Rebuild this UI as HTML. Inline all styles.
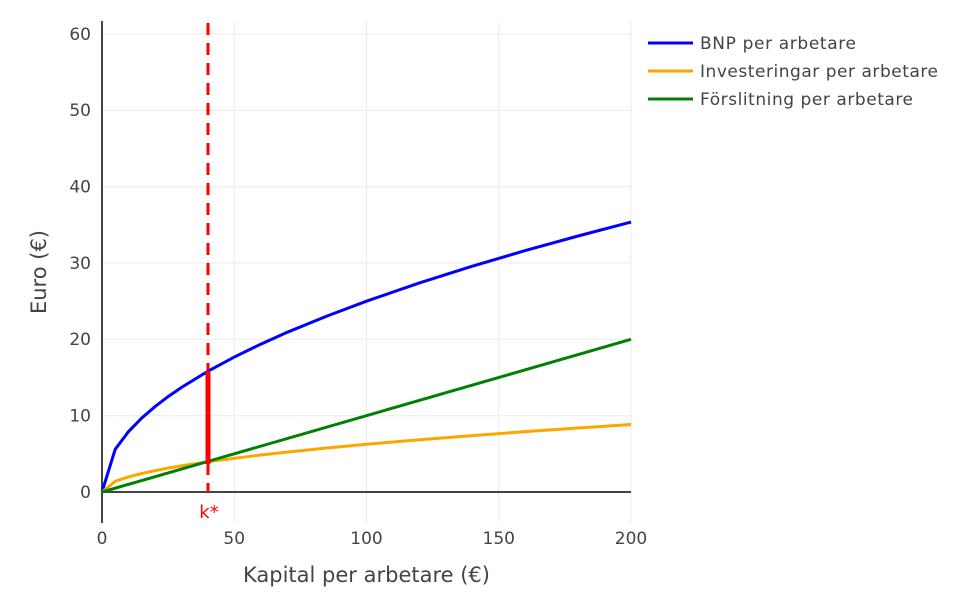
<!DOCTYPE html>
<html><head><meta charset="utf-8"><style>body{margin:0;background:#fff}svg{display:block}text{font-family:"DejaVu Sans","Liberation Sans",sans-serif;fill:#444}</style></head>
<body>
<svg width="959" height="609" viewBox="0 0 959 609" xmlns="http://www.w3.org/2000/svg">
<g stroke="#ebebeb" stroke-width="1">
<line x1="234.25" y1="21" x2="234.25" y2="523"/><line x1="366.5" y1="21" x2="366.5" y2="523"/><line x1="498.75" y1="21" x2="498.75" y2="523"/><line x1="631" y1="21" x2="631" y2="523"/>
<line x1="102" y1="415.7" x2="631" y2="415.7"/><line x1="102" y1="339.3" x2="631" y2="339.3"/><line x1="102" y1="263" x2="631" y2="263"/><line x1="102" y1="186.7" x2="631" y2="186.7"/><line x1="102" y1="110.4" x2="631" y2="110.4"/><line x1="102" y1="34" x2="631" y2="34"/>
</g>
<line x1="102" y1="492" x2="631" y2="492" stroke="#444" stroke-width="2"/>
<line x1="102" y1="21" x2="102" y2="523" stroke="#444" stroke-width="2"/>
<line x1="208" y1="23" x2="208" y2="492" stroke="#f00" stroke-width="3" stroke-dasharray="12,8"/>
<polyline fill="none" stroke="#0000ff" stroke-width="3" points="102,492 115.2,449.3 128.45,431.65 141.7,418.1 154.9,406.7 168.1,396.6 181.35,387.5 207.8,371.3 234.25,357.05 260.7,344.2 287.15,332.3 326.8,316.1 366.5,301.2 419.4,282.9 472.3,266.2 525.2,250.6 578.1,236 631,222.1"/>
<polyline fill="none" stroke="#ffa500" stroke-width="3" points="102,492 115.2,481.3 128.45,476.9 141.7,473.5 154.9,470.7 168.1,468.1 181.35,465.9 207.8,461.8 234.25,458.3 260.7,455.05 287.15,452.1 326.8,448 366.5,444.3 419.4,439.7 472.3,435.6 525.2,431.6 578.1,428 631,424.5"/>
<line x1="102" y1="492" x2="631" y2="339.3" stroke="#008000" stroke-width="3"/>
<line x1="208" y1="371" x2="208" y2="464" stroke="#f00" stroke-width="5"/>
<text x="209" y="518" font-size="18" text-anchor="middle" style="fill:#f00">k*</text>
<g font-size="17" text-anchor="end">
<text x="91" y="498">0</text><text x="91" y="421.5">10</text><text x="91" y="345">20</text><text x="91" y="269">30</text><text x="91" y="192.5">40</text><text x="91" y="116">50</text><text x="91" y="40">60</text>
</g>
<g font-size="17" text-anchor="middle">
<text x="102" y="544">0</text><text x="234.25" y="544">50</text><text x="366.5" y="544">100</text><text x="498.75" y="544">150</text><text x="631" y="544">200</text>
</g>
<text x="366.5" y="582" font-size="21" text-anchor="middle">Kapital per arbetare (€)</text>
<text transform="translate(46,272) rotate(-90)" font-size="21" text-anchor="middle">Euro (€)</text>
<line x1="648" y1="43" x2="693" y2="43" stroke="#0000ff" stroke-width="3"/>
<line x1="648" y1="71" x2="693" y2="71" stroke="#ffa500" stroke-width="3"/>
<line x1="648" y1="99" x2="693" y2="99" stroke="#008000" stroke-width="3"/>
<g font-size="17">
<text x="700" y="49" textLength="156">BNP per arbetare</text>
<text x="700" y="77" textLength="238">Investeringar per arbetare</text>
<text x="700" y="105" textLength="213">Förslitning per arbetare</text>
</g>
</svg>
</body></html>
